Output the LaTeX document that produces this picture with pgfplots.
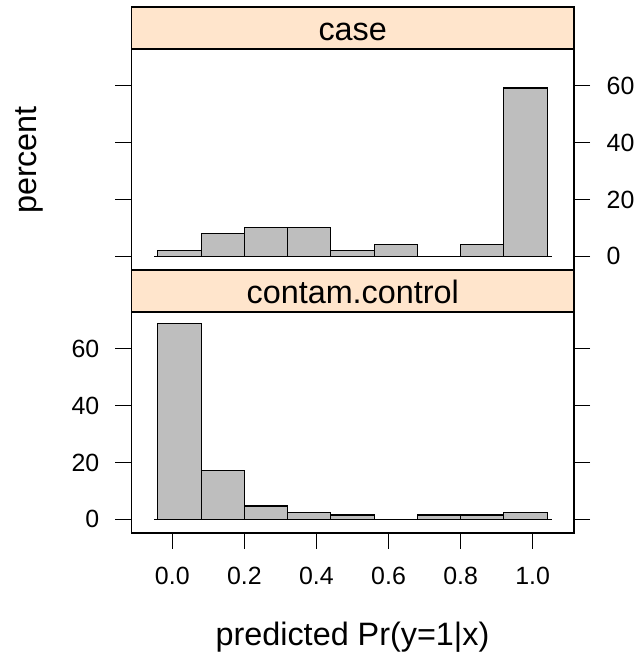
\documentclass[border=0pt]{standalone}
\usepackage{fontspec}
\setmainfont{Liberation Sans}
\usepackage{pgfplots}
\pgfplotsset{compat=1.18}
\definecolor{stripcol}{HTML}{FFE5CC}
\definecolor{bargray}{HTML}{BEBEBE}
\begin{document}
\begin{tikzpicture}
\useasboundingbox (0,0) rectangle (637bp,653bp);
\pgfplotsset{
  panel/.style={
    anchor=south west, scale only axis, width=442.5bp, height=221bp,
    xmin=-0.1132, xmax=1.1146, ymin=-4.8, ymax=72.9,
    axis line style={line width=1.2bp},
    every tick/.style={black, line width=1.2bp},
    major tick length=16bp, tick align=outside,
    ytick={0,20,40,60},
    /pgf/number format/assume math mode=true,
    tick label style={font=\fontsize{25}{30}\selectfont, inner sep=0pt},
  }
}
% top panel: case
\begin{axis}[panel, at={(131.5bp,383bp)},
  xtick=\empty,
  yticklabel pos=right, ytick pos=both,
  yticklabel style={xshift=16.5bp},
]
\addplot[black, line width=1.2bp] coordinates {(-0.05,0) (1.054,0)};
\addplot[ybar interval, fill=bargray, draw=black, line width=1.2bp] coordinates {
(-0.04,2.04) (0.08,8.16) (0.20,10.20) (0.32,10.20) (0.44,2.04) (0.56,4.08) (0.68,0) (0.80,4.08) (0.92,59.18) (1.04,0)};
\end{axis}
% bottom panel: contam.control
\begin{axis}[panel, at={(131.5bp,120bp)},
  xtick={0,0.2,0.4,0.6,0.8,1}, xtick pos=bottom,
  xticklabel style={yshift=-18bp, /pgf/number format/.cd, fixed, fixed zerofill, precision=1},
  yticklabel pos=left, ytick pos=both,
  yticklabel style={xshift=-16bp},
]
\addplot[black, line width=1.2bp] coordinates {(-0.05,0) (1.054,0)};
\addplot[ybar interval, fill=bargray, draw=black, line width=1.2bp] coordinates {
(-0.04,68.75) (0.08,17.19) (0.20,4.69) (0.32,2.34) (0.44,1.56) (0.56,0) (0.68,1.56) (0.80,1.56) (0.92,2.34) (1.04,0)};
\end{axis}
% strips
\draw[fill=stripcol, line width=1.2bp] (131.5bp,604bp) rectangle (574bp,646bp);
\draw[fill=stripcol, line width=1.2bp] (131.5bp,341bp) rectangle (574bp,383bp);
\node[anchor=base, inner sep=0pt, font=\fontsize{32.5}{38}\selectfont] at (352.75bp,612.7bp) {case};
\node[anchor=base, inner sep=0pt, font=\fontsize{32.5}{38}\selectfont] at (352.75bp,349.7bp) {contam.control};
\node[rotate=90, anchor=base, inner sep=0pt, font=\fontsize{32.5}{38}\selectfont] at (36bp,493bp) {percent};
\node[anchor=base, inner sep=0pt, font=\fontsize{32.5}{38}\selectfont] at (352.5bp,8bp) {predicted Pr(y=1|x)};
\end{tikzpicture}
\end{document}
